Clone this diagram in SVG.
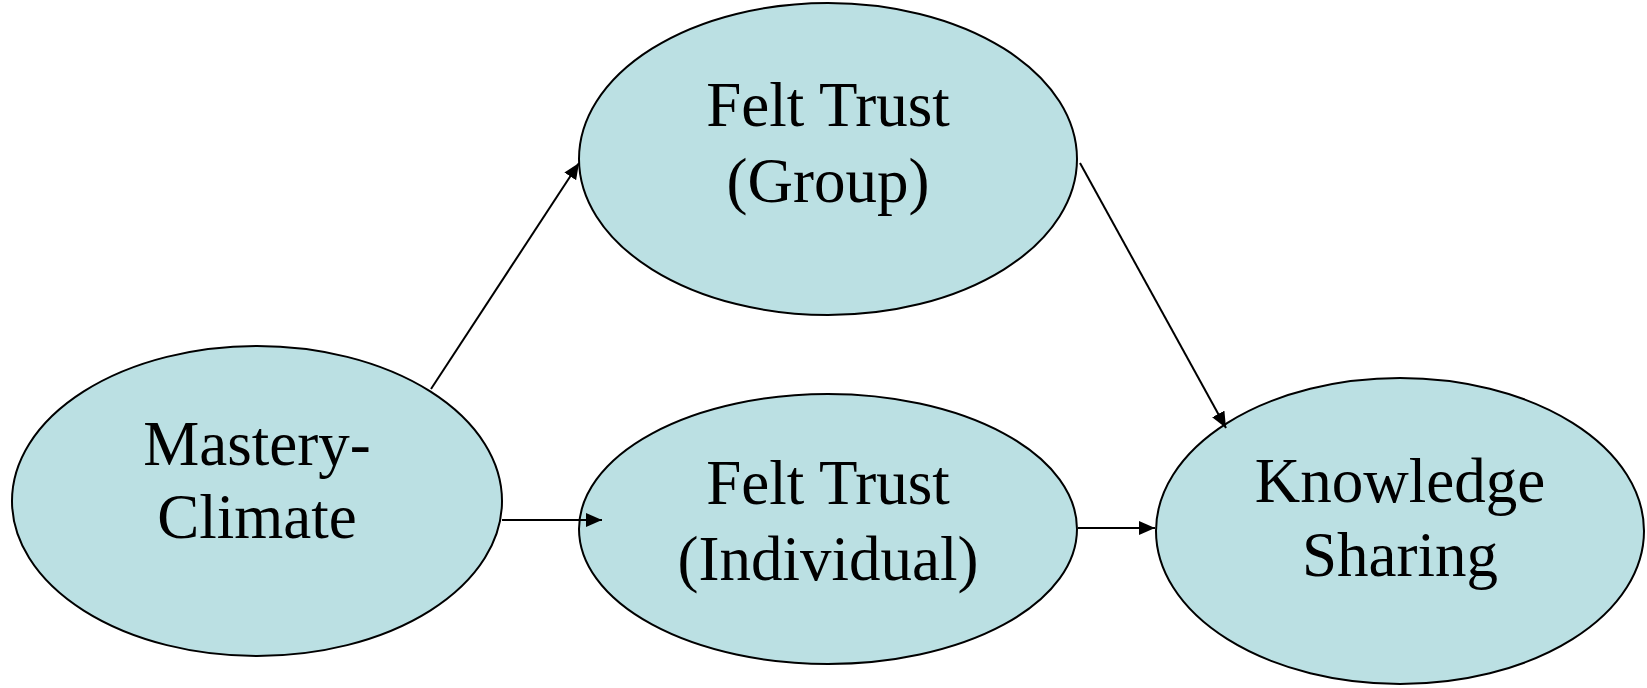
<svg xmlns="http://www.w3.org/2000/svg" width="1647" height="688" viewBox="0 0 1647 688">
<style>
.node ellipse{fill:#BBE0E3;stroke:#000;stroke-width:2}
.node text{font-family:"Liberation Serif","Times New Roman",serif;font-size:63px;fill:#000;text-anchor:middle}
.edge{stroke:#000;stroke-width:2;fill:none;marker-end:url(#ah)}
</style>
<defs>
<marker id="ah" viewBox="0 0 16 14" refX="16" refY="7" markerWidth="16" markerHeight="14" markerUnits="userSpaceOnUse" orient="auto">
<path d="M0,0 L16,7 L0,14 z" fill="#000"/>
</marker>
</defs>
<rect width="1647" height="688" fill="#fff"/>
<g id="n-group" class="node">
<ellipse cx="828" cy="159" rx="249" ry="156"/>
<text x="828" y="126">Felt Trust</text>
<text x="828" y="202">(Group)</text>
</g>
<g id="n-mastery" class="node">
<ellipse cx="257" cy="501" rx="245" ry="155"/>
<text x="257" y="465">Mastery-</text>
<text x="257" y="538">Climate</text>
</g>
<g id="n-individual" class="node">
<ellipse cx="828" cy="529" rx="249" ry="135"/>
<text x="828" y="504">Felt Trust</text>
<text x="828" y="580">(Individual)</text>
</g>
<g id="n-knowledge" class="node">
<ellipse cx="1400" cy="531" rx="244" ry="153"/>
<text x="1400" y="502">Knowledge</text>
<text x="1400" y="576">Sharing</text>
</g>
<g id="connectors">
<line class="edge" x1="431" y1="389" x2="579" y2="163"/>
<line class="edge" x1="502" y1="520" x2="602" y2="520"/>
<line class="edge" x1="1078" y1="528" x2="1155" y2="528"/>
<line class="edge" x1="1080" y1="163" x2="1226" y2="428"/>
</g>
</svg>
